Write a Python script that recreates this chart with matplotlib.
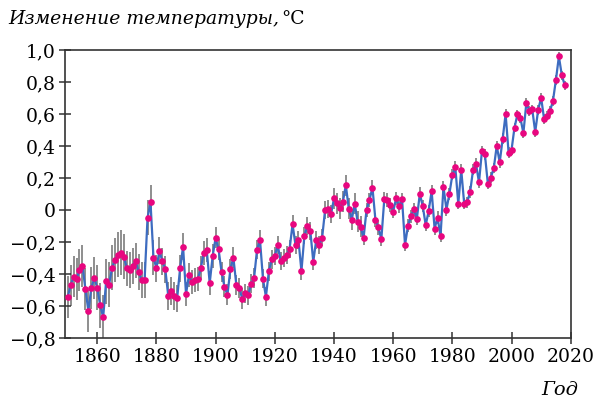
import numpy as np
import matplotlib
matplotlib.use("Agg")
import matplotlib.pyplot as plt
from matplotlib.ticker import FuncFormatter

# annual temperature anomaly (1850..2018)
years = list(range(1850, 2019))
anomaly = [
	-0.544, -0.470, -0.415, -0.428, -0.375, -0.348, -0.492, -0.629, -0.484, -0.425,
	-0.484, -0.594, -0.669, -0.444, -0.465, -0.359, -0.311, -0.279, -0.265, -0.290,
	-0.363, -0.373, -0.348, -0.315, -0.386, -0.436, -0.436, -0.046, 0.048, -0.296,
	-0.363, -0.254, -0.319, -0.369, -0.536, -0.504, -0.536, -0.550, -0.363, -0.228,
	-0.523, -0.404, -0.450, -0.436, -0.430, -0.363, -0.265, -0.248, -0.456, -0.286,
	-0.173, -0.244, -0.386, -0.478, -0.529, -0.367, -0.296, -0.467, -0.486, -0.553,
	-0.519, -0.531, -0.459, -0.423, -0.246, -0.186, -0.429, -0.540, -0.381, -0.306,
	-0.286, -0.219, -0.319, -0.300, -0.281, -0.242, -0.088, -0.219, -0.188, -0.381,
	-0.159, -0.098, -0.129, -0.321, -0.186, -0.217, -0.171, 0.002, 0.006, -0.025,
	0.073, 0.044, 0.013, 0.052, 0.156, 0.010, -0.060, 0.041, -0.073, -0.102,
	-0.173, 0.002, 0.064, 0.141, -0.060, -0.108, -0.181, 0.069, 0.063, 0.031,
	-0.009, 0.075, 0.023, 0.069, -0.217, -0.098, -0.038, 0.006, -0.054, 0.102,
	0.025, -0.094, -0.003, 0.119, -0.115, -0.046, -0.163, 0.146, 0.004, 0.102,
	0.221, 0.269, 0.040, 0.252, 0.040, 0.050, 0.113, 0.252, 0.289, 0.173,
	0.370, 0.348, 0.164, 0.204, 0.263, 0.402, 0.298, 0.446, 0.600, 0.360,
	0.377, 0.516, 0.598, 0.575, 0.481, 0.669, 0.620, 0.629, 0.488, 0.627,
	0.702, 0.569, 0.591, 0.619, 0.683, 0.814, 0.960, 0.841, 0.779,
]
# half-length of the uncertainty bars, one value per decade (1850s..2010s)
decadeErr = [0.13, 0.14, 0.11, 0.085, 0.075, 0.065, 0.06, 0.055, 0.055, 0.065,
	0.045, 0.04, 0.038, 0.035, 0.033, 0.03, 0.03]
errors = [decadeErr[(y - 1850) // 10] for y in years]

yTicks = [-0.8, -0.6, -0.4, -0.2, 0, 0.2, 0.4, 0.6, 0.8, 1.0]
xTicks = [1860, 1880, 1900, 1920, 1940, 1960, 1980, 2000, 2020]

plt.rcParams['font.family'] = ['DejaVu Serif']
fig = plt.figure(figsize=(5.99, 4.04), dpi=100)
ax = fig.add_axes([0.1085, 0.1626, 0.8443, 0.7136])

lo = np.array(anomaly) - np.array(errors)
hi = np.array(anomaly) + np.array(errors)
ax.vlines(years, lo, hi, color='#707070', linewidth=1.1, zorder=1)
ax.plot(years, anomaly, color='#3d6cc0', linewidth=1.6, zorder=2)
ax.plot(years, anomaly, linestyle='none', marker='o', markersize=4.8,
	color='#e8067f', markeredgewidth=0, zorder=3)

ax.set_xlim(1849.1, 2020)
ax.set_ylim(-0.8, 1.0)
ax.set_xticks(xTicks)
ax.set_yticks(yTicks)

def fmt(v, pos):
	if abs(v) < 1e-9:
		return "0"
	return "{0:.1f}".format(v).replace(".", ",").replace("-", "\u2212")
ax.yaxis.set_major_formatter(FuncFormatter(fmt))

ax.tick_params(direction='inout', length=8, width=1.1, color='#333333',
	labelsize=13.5, pad=3, top=False, right=False)
for sp in ax.spines.values():
	sp.set_linewidth(1.2)
	sp.set_color('#333333')

t1 = fig.text(0.013, 0.94, "Изменение температуры,", fontsize=13.5, style='italic',
	ha='left', va='baseline')
fig.canvas.draw()
bb = t1.get_window_extent(fig.canvas.get_renderer())
fig.text(bb.x1 / fig.bbox.width + 0.004, 0.94, "°C", fontsize=13.5, ha='left', va='baseline')
fig.text(0.965, 0.022, "Год", fontsize=14, style='italic', ha='right', va='baseline')

fig.savefig("out.png", dpi=100)
